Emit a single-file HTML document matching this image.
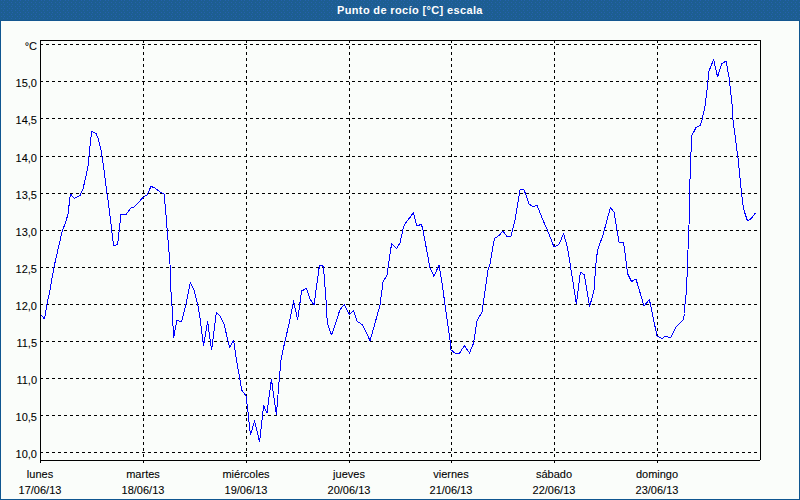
<!DOCTYPE html>
<html><head><meta charset="utf-8"><style>
html,body{margin:0;padding:0;}
body{width:800px;height:500px;position:relative;overflow:hidden;background:#fafdfa;font-family:"Liberation Sans",sans-serif;font-size:11px;color:#000;}
#tb{position:absolute;left:0;top:0;width:800px;height:21px;background:#1e5e92;}
#tbb{position:absolute;left:0;top:20px;width:800px;height:1px;background:#145790;}
#title{position:absolute;left:337px;top:4px;letter-spacing:0.36px;color:#fff;font-weight:bold;font-size:11px;white-space:nowrap;}
.bl{position:absolute;left:0;top:21px;width:1px;height:479px;background:#0f5690;}
.br{position:absolute;left:799px;top:21px;width:1px;height:479px;background:#0f5690;}
.bb{position:absolute;left:0;top:499px;width:800px;height:1px;background:#0f5690;}
.yl{position:absolute;left:0;width:37px;-webkit-text-stroke:0.08px #000;text-align:right;line-height:13px;white-space:nowrap;}
.xl{position:absolute;width:100px;-webkit-text-stroke:0.08px #000;text-align:center;line-height:13px;white-space:nowrap;}
svg{position:absolute;left:0;top:0;}
</style></head><body>
<svg id="tbs" width="800" height="20" style="position:absolute;left:0;top:0" shape-rendering="crispEdges"><defs><pattern id="dp" width="8" height="4" patternUnits="userSpaceOnUse"><rect width="8" height="4" fill="#1d5e91"/><rect x="1" y="0" width="1" height="1" fill="#2561ad"/><rect x="4" y="0" width="1" height="1" fill="#2561ad"/><rect x="3" y="2" width="1" height="1" fill="#2561ad"/><rect x="7" y="2" width="1" height="1" fill="#2561ad"/></pattern></defs><rect width="800" height="20" fill="url(#dp)"/></svg><div id="tbb"></div>
<div id="title">Punto de rocío [°C] escala</div>
<div class="bl"></div><div class="br"></div><div class="bb"></div>
<svg width="800" height="500" shape-rendering="crispEdges">
<line x1="143.5" y1="40" x2="143.5" y2="460" stroke="#000" stroke-dasharray="3 3"/>
<line x1="246.5" y1="40" x2="246.5" y2="460" stroke="#000" stroke-dasharray="3 3"/>
<line x1="349.5" y1="40" x2="349.5" y2="460" stroke="#000" stroke-dasharray="3 3"/>
<line x1="451.5" y1="40" x2="451.5" y2="460" stroke="#000" stroke-dasharray="3 3"/>
<line x1="554.5" y1="40" x2="554.5" y2="460" stroke="#000" stroke-dasharray="3 3"/>
<line x1="657.5" y1="40" x2="657.5" y2="460" stroke="#000" stroke-dasharray="3 3"/>
<line x1="40" y1="44.5" x2="760" y2="44.5" stroke="#000" stroke-dasharray="3 3"/>
<line x1="40" y1="81.5" x2="760" y2="81.5" stroke="#000" stroke-dasharray="3 3"/>
<line x1="40" y1="118.5" x2="760" y2="118.5" stroke="#000" stroke-dasharray="3 3"/>
<line x1="40" y1="156.5" x2="760" y2="156.5" stroke="#000" stroke-dasharray="3 3"/>
<line x1="40" y1="193.5" x2="760" y2="193.5" stroke="#000" stroke-dasharray="3 3"/>
<line x1="40" y1="230.5" x2="760" y2="230.5" stroke="#000" stroke-dasharray="3 3"/>
<line x1="40" y1="267.5" x2="760" y2="267.5" stroke="#000" stroke-dasharray="3 3"/>
<line x1="40" y1="304.5" x2="760" y2="304.5" stroke="#000" stroke-dasharray="3 3"/>
<line x1="40" y1="341.5" x2="760" y2="341.5" stroke="#000" stroke-dasharray="3 3"/>
<line x1="40" y1="378.5" x2="760" y2="378.5" stroke="#000" stroke-dasharray="3 3"/>
<line x1="40" y1="415.5" x2="760" y2="415.5" stroke="#000" stroke-dasharray="3 3"/>
<line x1="40" y1="452.5" x2="760" y2="452.5" stroke="#000" stroke-dasharray="3 3"/>
<line x1="40.5" y1="460" x2="40.5" y2="463" stroke="#000"/>
<line x1="143.5" y1="460" x2="143.5" y2="463" stroke="#000"/>
<line x1="246.5" y1="460" x2="246.5" y2="463" stroke="#000"/>
<line x1="349.5" y1="460" x2="349.5" y2="463" stroke="#000"/>
<line x1="451.5" y1="460" x2="451.5" y2="463" stroke="#000"/>
<line x1="554.5" y1="460" x2="554.5" y2="463" stroke="#000"/>
<line x1="657.5" y1="460" x2="657.5" y2="463" stroke="#000"/>
<path d="M40.5 460V40.5H760.5V460M40 460.5H760" fill="none" stroke="#000"/>
<path d="M41.0 315.0 L44.6 319.0 L47.0 304.0 L50.0 290.0 L54.0 267.0 L62.0 232.0 L66.0 221.0 L68.0 214.0 L70.4 194.0 L74.4 198.4 L80.0 195.5 L83.0 189.0 L86.0 176.0 L88.0 166.0 L89.6 150.0 L91.6 131.0 L96.0 133.6 L98.0 138.0 L101.0 150.0 L104.0 170.0 L107.0 194.0 L108.0 200.0 L111.0 224.0 L113.6 246.0 L117.6 244.4 L121.0 214.4 L126.0 214.4 L131.0 208.0 L134.0 207.0 L138.0 203.0 L143.0 197.4 L147.0 195.0 L151.0 186.4 L155.0 188.0 L160.0 192.0 L164.0 194.0 L165.6 210.0 L167.0 228.0 L170.0 264.0 L170.5 285.0 L172.0 306.0 L173.6 338.0 L177.0 320.0 L181.6 322.0 L186.0 304.0 L190.4 282.4 L194.0 290.0 L198.0 306.0 L200.0 318.0 L203.6 346.0 L207.6 321.6 L211.6 350.0 L216.4 312.4 L220.4 316.4 L224.0 324.0 L229.6 347.6 L233.6 340.4 L236.4 360.0 L239.0 374.0 L241.6 390.0 L246.0 396.0 L248.0 412.0 L250.4 435.0 L254.6 421.0 L259.6 442.0 L263.6 405.6 L267.0 413.0 L271.4 379.0 L276.4 415.0 L279.0 382.0 L281.0 360.0 L283.0 350.0 L289.0 324.0 L293.6 301.0 L297.6 320.0 L301.6 291.0 L306.4 288.4 L310.0 299.0 L314.0 305.0 L319.5 265.0 L322.0 265.0 L323.5 267.0 L326.2 302.0 L326.8 316.0 L327.5 323.5 L331.5 335.0 L335.0 325.0 L339.5 311.0 L340.5 309.0 L344.2 304.5 L349.5 314.5 L353.5 310.2 L357.2 321.5 L360.5 323.5 L362.5 325.0 L370.0 340.5 L374.5 325.0 L380.0 305.0 L383.0 282.0 L387.0 275.0 L391.6 243.6 L396.6 248.4 L400.0 243.0 L402.8 230.0 L404.5 224.5 L407.0 221.0 L410.0 217.5 L413.5 212.5 L416.5 225.0 L418.0 225.5 L421.0 224.5 L422.5 227.5 L430.0 268.0 L434.0 276.4 L439.0 265.0 L441.6 280.0 L446.0 312.0 L450.0 340.0 L451.0 350.0 L455.0 353.0 L459.6 353.0 L464.4 345.6 L469.5 353.0 L473.6 343.0 L477.0 321.0 L482.0 312.0 L488.0 270.0 L490.0 264.0 L494.4 238.4 L499.0 235.6 L503.0 231.0 L507.0 236.4 L511.0 236.4 L515.0 220.0 L520.0 189.6 L524.0 189.6 L529.0 204.0 L533.6 207.0 L537.0 205.0 L542.0 218.0 L547.0 229.0 L554.0 247.0 L559.0 244.4 L563.6 233.6 L567.6 248.0 L576.4 304.0 L580.4 272.0 L584.4 275.0 L589.6 307.0 L594.0 290.0 L596.4 258.0 L598.0 249.0 L603.0 235.0 L610.4 207.6 L614.0 212.0 L619.0 242.0 L623.6 242.4 L627.6 273.6 L631.6 281.6 L636.0 279.0 L644.0 306.0 L649.4 299.6 L657.0 336.0 L662.0 338.4 L666.0 336.0 L670.4 338.0 L676.0 327.0 L683.5 319.5 L684.5 313.5 L685.0 304.0 L686.6 290.0 L687.6 260.0 L689.0 225.0 L689.6 190.0 L691.6 136.0 L696.0 127.6 L700.0 125.6 L702.0 120.0 L705.0 106.0 L707.0 90.0 L709.0 71.0 L711.0 66.0 L713.6 59.6 L717.6 77.0 L721.6 64.0 L726.0 61.0 L729.0 77.0 L732.0 104.0 L733.0 120.0 L738.0 158.0 L741.5 193.0 L743.0 205.0 L744.5 212.0 L747.5 221.0 L750.0 219.5 L752.5 217.0 L755.5 213.0" fill="none" stroke="#0000ff" stroke-width="1" stroke-linejoin="round" shape-rendering="crispEdges"/>
</svg>
<div class="yl" style="top:40px">°C</div>
<div class="yl" style="top:77px">15,0</div>
<div class="yl" style="top:114px">14,5</div>
<div class="yl" style="top:152px">14,0</div>
<div class="yl" style="top:189px">13,5</div>
<div class="yl" style="top:226px">13,0</div>
<div class="yl" style="top:263px">12,5</div>
<div class="yl" style="top:300px">12,0</div>
<div class="yl" style="top:337px">11,5</div>
<div class="yl" style="top:374px">11,0</div>
<div class="yl" style="top:411px">10,5</div>
<div class="yl" style="top:448px">10,0</div>
<div class="xl" style="left:-10px;top:468px">lunes</div>
<div class="xl" style="left:-10px;top:484px">17/06/13</div>
<div class="xl" style="left:93px;top:468px">martes</div>
<div class="xl" style="left:93px;top:484px">18/06/13</div>
<div class="xl" style="left:196px;top:468px">miércoles</div>
<div class="xl" style="left:196px;top:484px">19/06/13</div>
<div class="xl" style="left:299px;top:468px">jueves</div>
<div class="xl" style="left:299px;top:484px">20/06/13</div>
<div class="xl" style="left:401px;top:468px">viernes</div>
<div class="xl" style="left:401px;top:484px">21/06/13</div>
<div class="xl" style="left:504px;top:468px">sábado</div>
<div class="xl" style="left:504px;top:484px">22/06/13</div>
<div class="xl" style="left:607px;top:468px">domingo</div>
<div class="xl" style="left:607px;top:484px">23/06/13</div>
</body></html>
